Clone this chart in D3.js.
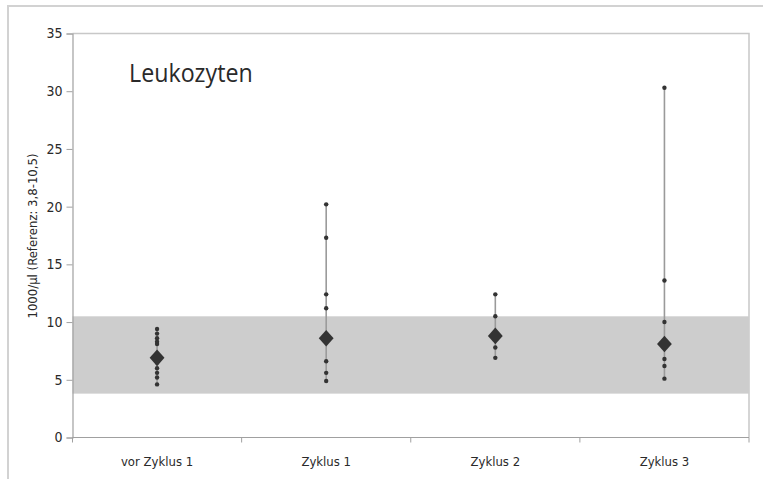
<!DOCTYPE html>
<html>
<head>
<meta charset="utf-8">
<script src="https://cdn.jsdelivr.net/npm/d3@7"></script>
<style>
  html, body { margin: 0; padding: 0; background: #fff; }
  svg { display: block; }
  text { font-family: "Liberation Sans Narrow", "DejaVu Sans Condensed", "Liberation Sans", sans-serif; fill: #2a2a2a; }
</style>
</head>
<body>
<svg id="chart" width="763" height="479"></svg>
<script>
// Leukocyte counts per treatment cycle
const categories = ["vor Zyklus 1", "Zyklus 1", "Zyklus 2", "Zyklus 3"];
// individual patient values per cycle (1000/µl)
const valuesVor = [9.4, 9.0, 8.6, 8.3, 8.1, 6.5, 6.0, 5.6, 5.2, 4.6];
const valuesZ1 = [20.2, 17.3, 12.4, 11.2, 6.6, 5.6, 4.9];
const valuesZ2 = [12.4, 10.5, 7.8, 6.9];
const valuesZ3 = [30.3, 13.6, 10.0, 6.8, 6.2, 5.1];
// central value per cycle (large diamond)
const centers = [6.9, 8.6, 8.8, 8.1];
// reference range
const refLow = 3.8, refHigh = 10.5;
const yTicks = [0, 5, 10, 15, 20, 25, 30, 35];

const groups = [valuesVor, valuesZ1, valuesZ2, valuesZ3];

const svg = d3.select("#chart");
const m = { left: 72.5, top: 33.5, right: 749, bottom: 437.5 };

// outer frame
svg.append("path")
  .attr("d", `M8,479 V6 H763`)
  .attr("fill", "none").attr("stroke", "#d2d2d2").attr("stroke-width", 2);

const x = d3.scaleBand().domain(categories).range([m.left, m.right]).padding(0);
const y = d3.scaleLinear().domain([0, 35]).range([m.bottom, m.top]);

// plot frame (top and right)
svg.append("path")
  .attr("d", `M${m.left},${m.top} H${m.right} V${m.bottom}`)
  .attr("fill", "none").attr("stroke", "#c8c8c8").attr("stroke-width", 1.5);

// reference band
svg.append("rect")
  .attr("x", m.left).attr("width", m.right - m.left)
  .attr("y", y(refHigh)).attr("height", y(refLow) - y(refHigh))
  .attr("fill", "#cdcdcd");

// y axis
const yAxis = svg.append("g")
  .attr("transform", `translate(${m.left},0)`)
  .call(d3.axisLeft(y).tickValues(yTicks).tickSize(6).tickPadding(4));
yAxis.select(".domain").attr("stroke", "#a0a0a0").attr("stroke-width", 1.2);
yAxis.selectAll(".tick line").attr("stroke", "#a0a0a0");
yAxis.selectAll(".tick text").attr("font-size", 14).style("fill", "#2a2a2a")
  .style("font-family", "\"Liberation Sans Narrow\", \"DejaVu Sans Condensed\", sans-serif");

// x axis with ticks at category boundaries
const xAxis = svg.append("g").attr("transform", `translate(0,${m.bottom})`);
xAxis.append("line")
  .attr("x1", m.left).attr("x2", m.right).attr("y1", 0).attr("y2", 0)
  .attr("stroke", "#a0a0a0").attr("stroke-width", 1.2);
const bounds = categories.map(c => x(c)).concat([m.right]);
xAxis.selectAll("line.tk").data(bounds).enter().append("line")
  .attr("class", "tk")
  .attr("x1", d => d).attr("x2", d => d).attr("y1", 0).attr("y2", 5)
  .attr("stroke", "#a0a0a0");
xAxis.selectAll("text").data(categories).enter().append("text")
  .attr("x", d => x(d) + x.bandwidth() / 2)
  .attr("y", 28)
  .attr("text-anchor", "middle")
  .attr("font-size", 13)
  .text(d => d);

// y axis title
svg.append("text")
  .attr("transform", `translate(37,236) rotate(-90)`)
  .attr("text-anchor", "middle")
  .attr("font-size", 13)
  .text("1000/µl (Referenz: 3,8-10,5)");

// chart title
svg.append("text")
  .attr("transform", "translate(129,82) scale(0.93,1)")
  .attr("font-size", 25)
  .style("font-family", "\"Open Sans\", \"Liberation Sans\", sans-serif")
  .text("Leukozyten");

// range lines, points and central diamonds
const cx = c => x(c) + x.bandwidth() / 2;
groups.forEach((vals, i) => {
  const c = categories[i];
  const all = vals.concat([centers[i]]);
  svg.append("line")
    .attr("x1", cx(c)).attr("x2", cx(c))
    .attr("y1", y(d3.max(all))).attr("y2", y(d3.min(all)))
    .attr("stroke", "#9a9a9a").attr("stroke-width", 1.6);
  svg.selectAll(null).data(vals).enter().append("circle")
    .attr("cx", cx(c)).attr("cy", d => y(d)).attr("r", 2.2)
    .attr("fill", "#333");
  svg.append("path")
    .attr("d", d3.symbol().type(d3.symbolDiamond2).size(140)())
    .attr("transform", `translate(${cx(c)},${y(centers[i])}) scale(1,1.12)`)
    .attr("fill", "#333");
});
</script>
</body>
</html>
